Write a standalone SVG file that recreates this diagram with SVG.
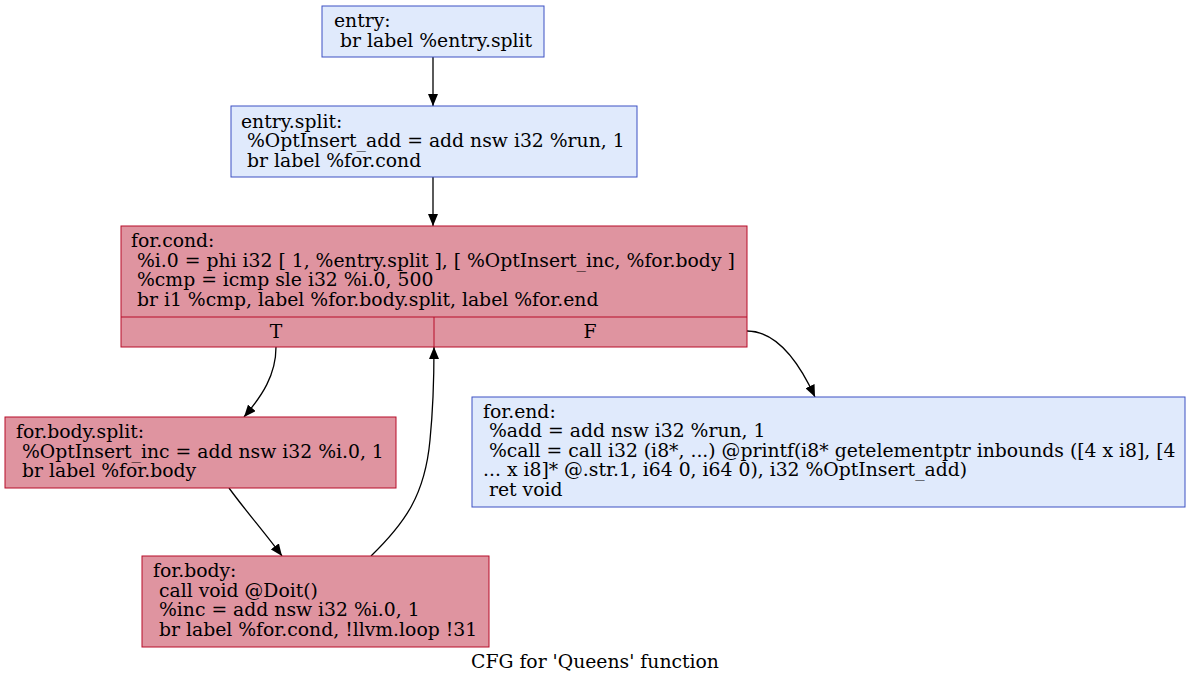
<svg xmlns="http://www.w3.org/2000/svg" width="1191" height="684" viewBox="0 0 1191 684">
<style>
text{font-family:"DejaVu Serif","Liberation Serif",serif;font-size:18.8px;fill:#000;white-space:pre}
.red{fill:#df94a0;stroke:#b70d28;stroke-width:1}
.blue{fill:#e0eafc;stroke:#3d50c3;stroke-width:1}
.edge{fill:none;stroke:#000;stroke-width:1.3}
.mid{text-anchor:middle}
</style>
<defs>
<marker id="arr" viewBox="0 0 12 10" refX="12" refY="5" markerWidth="12" markerHeight="10" markerUnits="userSpaceOnUse" orient="auto">
<path d="M0,0 L12,5 L0,10 z" fill="#000"/>
</marker>
</defs>
<rect width="1191" height="684" fill="#fff"/>
<g id="edges">
<path class="edge" d="M433,57 L433,106" marker-end="url(#arr)"/>
<path class="edge" d="M433,177 L433,226" marker-end="url(#arr)"/>
<path class="edge" d="M276,347 C276,375 262,396 244,417" marker-end="url(#arr)"/>
<path class="edge" d="M747,331 C775,331 798,360 815,397" marker-end="url(#arr)"/>
<path class="edge" d="M229,488 C245,510 265,533 282,556" marker-end="url(#arr)"/>
<path class="edge" d="M371,556 C405,523 425,495 430,440 C433,410 434,385 434,347" marker-end="url(#arr)"/>
</g>
<g id="entry">
<rect class="blue" x="322" y="6" width="222" height="51"/>
<text x="334" y="27">entry:</text>
<text x="334" y="47"> br label %entry.split</text>
</g>
<g id="entry.split">
<rect class="blue" x="231" y="106" width="406" height="71"/>
<text x="241" y="127.5">entry.split:</text>
<text x="241" y="147"> %OptInsert_add = add nsw i32 %run, 1</text>
<text x="241" y="166.5"> br label %for.cond</text>
</g>
<g id="for.cond">
<rect class="red" x="121" y="226" width="626" height="121"/>
<path d="M121,317 H747 M434,317 V347" fill="none" stroke="#b70d28"/>
<text x="131" y="247">for.cond:</text>
<text x="131" y="266.5"> %i.0 = phi i32 [ 1, %entry.split ], [ %OptInsert_inc, %for.body ]</text>
<text x="131" y="286"> %cmp = icmp sle i32 %i.0, 500</text>
<text x="131" y="305.5"> br i1 %cmp, label %for.body.split, label %for.end</text>
<text class="mid" x="276" y="337.5">T</text>
<text class="mid" x="590" y="337.5">F</text>
</g>
<g id="for.body.split">
<rect class="red" x="5" y="417" width="391" height="71"/>
<text x="16" y="438">for.body.split:</text>
<text x="16" y="457.5"> %OptInsert_inc = add nsw i32 %i.0, 1</text>
<text x="16" y="477"> br label %for.body</text>
</g>
<g id="for.end">
<rect class="blue" x="472" y="397" width="713" height="110"/>
<text x="483" y="417.5">for.end:</text>
<text x="483" y="437"> %add = add nsw i32 %run, 1</text>
<text x="483" y="456.5"> %call = call i32 (i8*, ...) @printf(i8* getelementptr inbounds ([4 x i8], [4</text>
<text x="483" y="476">... x i8]* @.str.1, i64 0, i64 0), i32 %OptInsert_add)</text>
<text x="483" y="495.5"> ret void</text>
</g>
<g id="for.body">
<rect class="red" x="142" y="556" width="347" height="91"/>
<text x="153" y="577">for.body:</text>
<text x="153" y="596.5"> call void @Doit()</text>
<text x="153" y="616"> %inc = add nsw i32 %i.0, 1</text>
<text x="153" y="635.5"> br label %for.cond, !llvm.loop !31</text>
</g>
<g id="title">
<text class="mid" x="595" y="668">CFG for 'Queens' function</text>
</g>
</svg>
